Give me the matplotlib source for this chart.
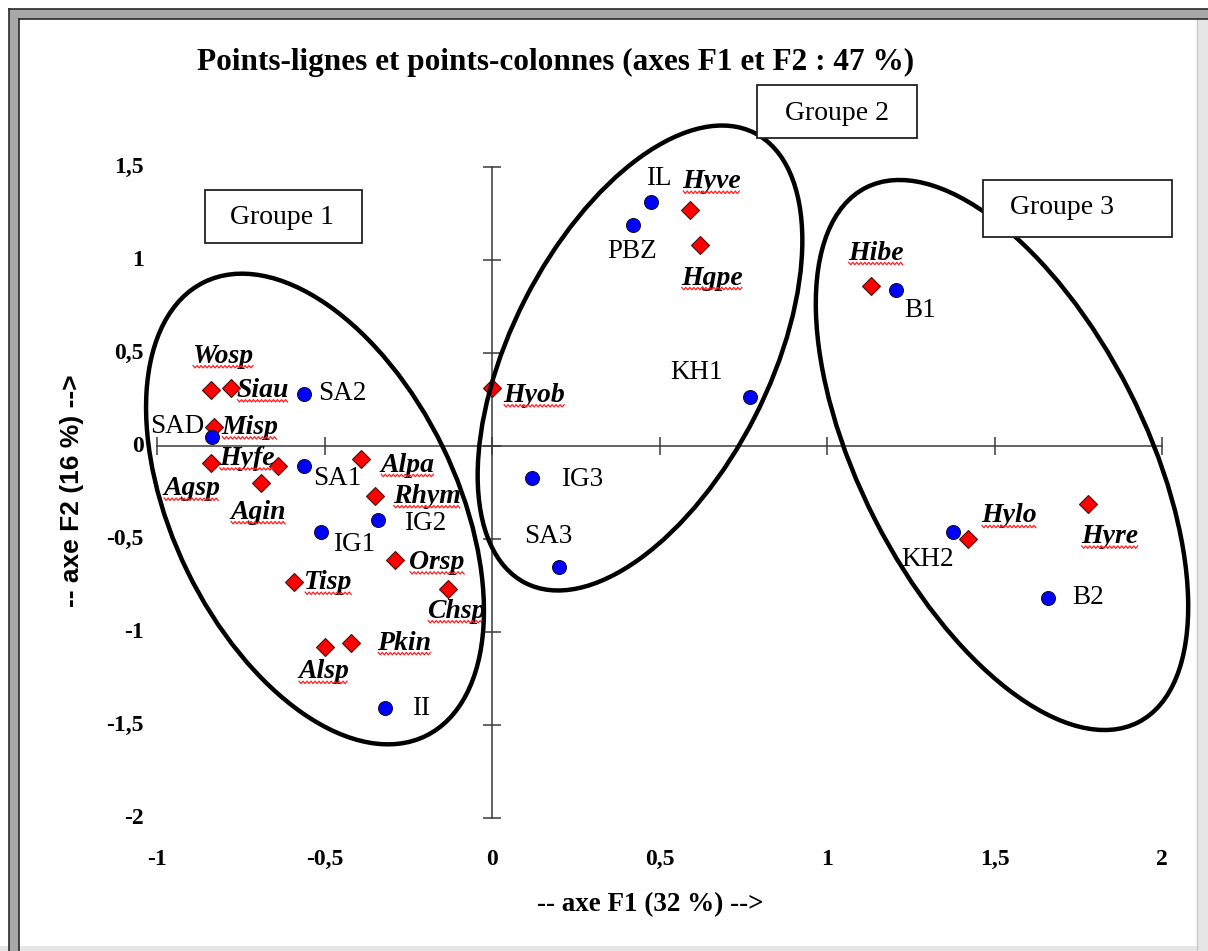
import matplotlib
matplotlib.use("Agg")
import matplotlib.pyplot as plt
from matplotlib.patches import Ellipse, Rectangle
from matplotlib.lines import Line2D
import numpy as np

# ---------------- data ----------------
species = ["Wosp", "Siau", "Misp", "Agsp", "Hyfe", "Agin", "Alpa", "Rhym", "Orsp",
           "Tisp", "Chsp", "Pkin", "Alsp", "Hyob", "Hyve", "Hgpe", "Hibe", "Hylo", "Hyre"]
species_f1 = [-0.84, -0.78, -0.83, -0.84, -0.64, -0.69, -0.39, -0.35, -0.29,
              -0.59, -0.13, -0.42, -0.50, 0.00, 0.59, 0.62, 1.13, 1.42, 1.78]
species_f2 = [0.30, 0.31, 0.10, -0.09, -0.11, -0.20, -0.07, -0.27, -0.615,
              -0.73, -0.77, -1.06, -1.08, 0.31, 1.27, 1.08, 0.86, -0.50, -0.31]

sites = ["SA2", "SAD", "SA1", "IG2", "IG1", "II", "IL", "PBZ", "KH1", "IG3", "SA3",
         "B1", "KH2", "B2"]
sites_f1 = [-0.56, -0.835, -0.56, -0.34, -0.51, -0.32, 0.475, 0.42, 0.77, 0.12, 0.20,
            1.205, 1.377, 1.66]
sites_f2 = [0.28, 0.05, -0.11, -0.40, -0.46, -1.41, 1.31, 1.19, 0.265, -0.17, -0.65,
            0.84, -0.46, -0.815]

xticks = [-1, -0.5, 0, 0.5, 1, 1.5, 2]
yticks = [-2, -1.5, -1, -0.5, 0, 0.5, 1, 1.5]

title = "Points-lignes et points-colonnes (axes F1 et F2 : 47 %)"
xlabel = "-- axe F1 (32 %) -->"
ylabel = "-- axe F2 (16 %) -->"
groups = ["Groupe 1", "Groupe 2", "Groupe 3"]

# ---------------- layout / style ----------------
W, H = 1208, 951
SERIF = ["Liberation Serif", "DejaVu Serif"]
SANS = ["Liberation Sans", "DejaVu Sans"]

# label offsets in pixels (dx, dy up)
sp_off = {"Wosp": (12, 34), "Siau": (32, -2), "Misp": (36, 0), "Agsp": (-19, -26),
          "Hyfe": (-31, 8), "Agin": (-3, -29), "Alpa": (46, -6), "Rhym": (52, 0),
          "Orsp": (42, -2), "Tisp": (34, -1), "Chsp": (8, -22), "Pkin": (53, 0),
          "Alsp": (-1, -25), "Hyob": (42, -7), "Hyve": (22, 28), "Hgpe": (12, -33),
          "Hibe": (5, 33), "Hylo": (41, 23), "Hyre": (21, -33)}
st_off = {"SA2": (38, 0), "SAD": (-35, 10), "SA1": (33, -12), "IG2": (47, -3),
          "IG1": (33, -13), "II": (36, 0), "IL": (8, 24), "PBZ": (-1, -27),
          "KH1": (-53, 24), "IG3": (50, -2), "SA3": (-11, 30), "B1": (24, -21),
          "KH2": (-26, -28), "B2": (40, 0)}

fig = plt.figure(figsize=(W / 100, H / 100), dpi=100)
fig.patch.set_facecolor("white")

def fx(px):
    return px / W

def fy(py):
    return 1 - py / H

ax = fig.add_axes([fx(157), fy(818), (1162 - 157) / W, (818 - 167) / H])
ax.set_xlim(-1, 2)
ax.set_ylim(-2, 1.5)
ax.patch.set_alpha(0)
for s in ["top", "right"]:
    ax.spines[s].set_visible(False)
ax.spines["left"].set_position(("data", 0))
ax.spines["bottom"].set_position(("data", 0))
for s in ["left", "bottom"]:
    ax.spines[s].set_color("#3a3a3a")
    ax.spines[s].set_linewidth(1.1)
ax.set_xticks(xticks)
ax.set_yticks(yticks)
ax.tick_params(direction="inout", length=13, width=1.1, color="#3a3a3a",
               labelleft=False, labelbottom=False)

def fmt(v):
    return ("%g" % v).replace(".", ",")

for v in yticks:
    ax.text(-0.013, v, fmt(v), transform=ax.get_yaxis_transform(), ha="right",
            va="center", fontsize=17, fontweight="bold", family=SERIF)
for v in xticks:
    ax.text(v, -0.064, fmt(v), transform=ax.get_xaxis_transform(), ha="center",
            va="center", fontsize=17, fontweight="bold", family=SERIF)

# markers
ax.plot(species_f1, species_f2, linestyle="none", marker="D", markersize=9.5,
        markerfacecolor="#ff0000", markeredgecolor="#4a1010", markeredgewidth=0.8,
        zorder=3)
ax.plot(sites_f1, sites_f2, linestyle="none", marker="o", markersize=10,
        markerfacecolor="#0000ff", markeredgecolor="#101030", markeredgewidth=0.8,
        zorder=3)

sp_texts = []
for name, x, y in zip(species, species_f1, species_f2):
    dx, dy = sp_off[name]
    t = ax.annotate(name, (x, y), xytext=(dx, dy), textcoords="offset pixels",
                    ha="center", va="center", fontsize=20, fontweight="bold",
                    fontstyle="italic", family=SERIF, zorder=4)
    sp_texts.append(t)
for name, x, y in zip(sites, sites_f1, sites_f2):
    dx, dy = st_off[name]
    ax.annotate(name, (x, y), xytext=(dx, dy), textcoords="offset pixels",
                ha="center", va="center", fontsize=19.5, family=SERIF, zorder=4)

# titles
fig.text(fx(556), fy(62), title, ha="center", va="center", fontsize=22.5,
         fontweight="bold", family=SERIF)
fig.text(fx(650), fy(905), xlabel, ha="center", va="center", fontsize=19.5,
         fontweight="bold", family=SERIF)
fig.text(fx(72), fy(491), ylabel, ha="center", va="center", rotation=90,
         fontsize=19, fontweight="bold", family=SANS)

# ellipses (pixel geometry, in inches)
ell = [((315, 509), 505, 284, -64), ((640, 358), 505, 258, 63),
       ((1002, 455), 600, 285, -63)]
for (cx, cy), w, h, ang in ell:
    e = Ellipse((cx / 100, (H - cy) / 100), w / 100, h / 100, angle=ang,
                transform=fig.dpi_scale_trans, fill=False, lw=3.2, ec="black",
                zorder=5)
    fig.add_artist(e)

# group boxes
boxes = [((205, 190, 362, 243), (282, 217)), ((757, 85, 917, 138), (837, 113)),
         ((983, 180, 1172, 237), (1062, 208))]
for g, ((x0, y0, x1, y1), (tx, ty)) in zip(groups, boxes):
    r = Rectangle((fx(x0), fy(y1)), (x1 - x0) / W, (y1 - y0) / H,
                  transform=fig.transFigure, fc="white", ec="#222222", lw=1.3,
                  zorder=6)
    fig.add_artist(r)
    fig.text(fx(tx), fy(ty), g, ha="center", va="center", fontsize=20,
             family=SERIF, zorder=7)

# frame border: double line at top and left, light shadow at right and bottom
fig.add_artist(Rectangle((fx(1197), 0), 11 / W, fy(10), transform=fig.transFigure,
                         fc="#e6e6e6", ec="none", zorder=8))
fig.add_artist(Line2D([fx(1197), fx(1197)], [0, fy(18)], transform=fig.transFigure,
                      color="#c8c8c8", lw=1.0, zorder=9))
fig.add_artist(Rectangle((0, 0), 1, 5 / H, transform=fig.transFigure,
                         fc="#e6e6e6", ec="none", zorder=8))
# top band
fig.add_artist(Rectangle((fx(9), fy(19)), 1 - fx(9), 10 / H, transform=fig.transFigure,
                         fc="#a8a8a8", ec="none", zorder=9))
# left band
fig.add_artist(Rectangle((fx(9), 0), 10 / W, fy(9), transform=fig.transFigure,
                         fc="#a8a8a8", ec="none", zorder=9))
for seg in [([fx(9), 1], [fy(9), fy(9)]), ([fx(19), 1], [fy(19), fy(19)]),
            ([fx(9), fx(9)], [0, fy(9)]), ([fx(19), fx(19)], [0, fy(19)])]:
    fig.add_artist(Line2D(seg[0], seg[1], transform=fig.transFigure,
                          color="#2a2a2a", lw=1.2, zorder=10))

# spell-check squiggles under species labels
fig.canvas.draw()
rend = fig.canvas.get_renderer()
for t in sp_texts:
    bb = t.get_window_extent(rend)
    xs = np.arange(bb.x0 + 1, bb.x1, 2.0)
    ys = bb.y0 + 2 + np.where(np.arange(len(xs)) % 2 == 0, 1.2, -1.2)
    fig.add_artist(Line2D(xs, ys, transform=None, color="#ff2020", lw=0.9,
                          zorder=4))

fig.savefig("out.png", dpi=100)
